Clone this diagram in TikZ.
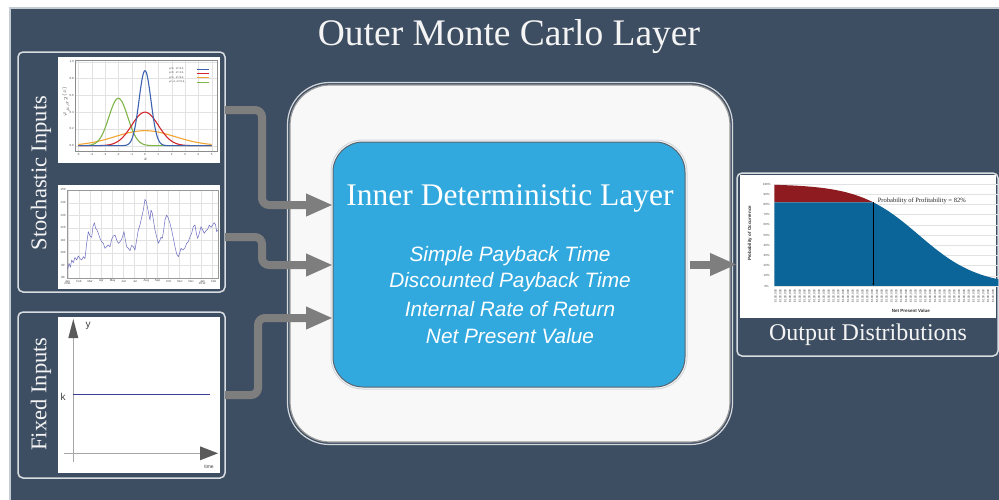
\documentclass[tikz,border=0pt]{standalone}
\usepackage{fontspec}
\setmainfont{Liberation Serif}
\newfontfamily\sansf{Liberation Sans}
\usetikzlibrary{arrows.meta}
\definecolor{panel}{HTML}{3E4E62}
\definecolor{panelline}{HTML}{C5CBD2}
\definecolor{boxline}{HTML}{D8DDE2}
\definecolor{midfill}{HTML}{F8F8F8}
\definecolor{midline}{HTML}{9A9A9A}
\definecolor{ringc}{HTML}{D4D8DC}
\definecolor{skyb}{HTML}{31A9DE}
\definecolor{skyline}{HTML}{5A646E}
\definecolor{arrowg}{HTML}{7E7E7E}
\definecolor{gridc}{HTML}{E2E2E2}
\definecolor{cblue}{HTML}{3D63AE}
\definecolor{cred}{HTML}{D1262B}
\definecolor{corange}{HTML}{F2A533}
\definecolor{cgreen}{HTML}{80B54A}
\definecolor{tsline}{HTML}{6A6AC0}
\definecolor{kline}{HTML}{3A3C96}
\definecolor{axisg}{HTML}{5A5A5A}
\definecolor{dred}{HTML}{8E1B1F}
\definecolor{dblue}{HTML}{0C6598}
\definecolor{txtw}{HTML}{F4F4F4}
\begin{document}
\begin{tikzpicture}[x=1pt,y=-1pt,
  titletxt/.style={text=txtw, font=\fontsize{37.5}{41}\selectfont, inner sep=0pt},
  sidetxt/.style={text=txtw, font=\fontsize{22.5}{24}\selectfont, inner sep=0pt},
  innertitle/.style={text=white, font=\fontsize{31.5}{35}\selectfont, inner sep=0pt},
  itemtxt/.style={text=white, font=\sansf\itshape\fontsize{20.8}{23}\selectfont, inner sep=0pt},
  outtxt/.style={text=txtw, font=\fontsize{24}{27}\selectfont, inner sep=0pt},
  inbox/.style={draw=boxline, line width=1.5pt, fill=panel, rounded corners=5pt, inner sep=0pt, outer sep=0pt},
  plotbg/.style={fill=white, inner sep=0pt, outer sep=0pt},
  flow/.style={draw=arrowg, line width=8pt, rounded corners=7pt, -{Triangle[length=27pt,width=21pt]}},
  gridln/.style={draw=gridc, line width=0.3pt},
  tinytxt/.style={font=\sansf\fontsize{3}{3.5}\selectfont, text=black!70, inner sep=0pt},
  legtxt/.style={font=\sansf\fontsize{2.6}{3}\selectfont, text=black!75, inner sep=0pt, anchor=west},
  curve/.style={line width=1.1pt, line join=round},
  axline/.style={draw=black!35, line width=0.7pt},
  declare function={pp(\x)=348-306/(1+exp((\x-551.4)/90));}
]
\useasboundingbox (0,0) rectangle (999,499);
\fill[white] (0,0) rectangle (999,499);
\draw[fill=panel, draw=panelline, line width=1.5pt] (10,8) rectangle (1012,512);
\node[titletxt] (title) at (509,37) {Outer Monte Carlo Layer};

% left boxes
\node[inbox, minimum width=207pt, minimum height=240pt] (stoch) at (121.5,172) {};
\node[plotbg, minimum width=162pt, minimum height=106pt] (p1) at (139,110) {};
\node[plotbg, minimum width=162pt, minimum height=104pt] (p2) at (139,237) {};
\node[inbox, minimum width=207pt, minimum height=166pt] (fixed) at (121.5,395) {};
\node[plotbg, minimum width=162pt, minimum height=156pt] (p3) at (139,395) {};
\node[sidetxt, rotate=90] (stochlbl) at (41,173) {Stochastic Inputs};
\node[sidetxt, rotate=90] (fixedlbl) at (41,394) {Fixed Inputs};

% plot 1: normal densities
\begin{scope}[shift={(55,55)}, x=0.3333pt, y=-0.3333pt]
  \foreach \k in {0,...,10} \draw[gridln] ({70+40*\k},15) -- ({70+40*\k},288);
  \foreach \j in {0,...,5} \draw[gridln] (62,{272-50.4*\j}) -- (487,{272-50.4*\j});
  \draw[draw=black!45, line width=0.4pt] (62,15) rectangle (487,288);
  \draw[curve, corange] plot[domain=-5:5, samples=80, smooth] ({270+40*\x},{272-252*exp(-((\x)*(\x))/10)/sqrt(2*pi*5)});
  \draw[curve, cgreen] plot[domain=-5:1.5, samples=80, smooth] ({270+40*\x},{272-252*exp(-((\x+2)*(\x+2))/1)/sqrt(2*pi*0.5)}) -- (470,272);
  \draw[curve, cred] plot[domain=-5:5, samples=100, smooth] ({270+40*\x},{272-252*exp(-((\x)*(\x))/2)/sqrt(2*pi)});
  \draw[curve, cblue] (70,272) -- plot[domain=-2:2, samples=121, smooth] ({270+40*\x},{272-252*exp(-((\x)*(\x))/0.4)/sqrt(2*pi*0.2)}) -- (470,272);
  \node[legtxt] (lg1) at (342,42) {μ=0,\ \ σ²=0.2,};
  \node[legtxt] (lg2) at (342,55) {μ=0,\ \ σ²=1.0,};
  \node[legtxt] (lg3) at (342,68) {μ=0,\ \ σ²=5.0,};
  \node[legtxt] (lg4) at (342,82) {μ=−2,\ σ²=0.5,};
  \draw[cblue, line width=1pt] (425,42) -- (462,42);
  \draw[cred, line width=1pt] (425,55) -- (462,55);
  \draw[corange, line width=1pt] (425,68) -- (462,68);
  \draw[cgreen, line width=1pt] (425,82) -- (462,82);
  \foreach \v [count=\k from 0] in {-5,-4,-3,-2,-1,0,1,2,3,4,5}
    \node[tinytxt] (p1x\k) at ({70+40*\k},298) {\v};
  \foreach \v [count=\j from 0] in {0.0,0.2,0.4,0.6,0.8,1.0}
    \node[tinytxt] (p1y\j) at (50,{272-50.4*\j}) {\v};
  \node[tinytxt, rotate=90] (p1yl) at (33,140) {$\varphi_{\mu,\sigma^2}(x)$};
  \node[tinytxt] (p1xl) at (272,314) {$x$};
\end{scope}

% plot 2: time series
\begin{scope}[shift={(55,180)}, x=0.3333pt, y=-0.3333pt]
  \foreach \k in {38,72,105,138,172,205,238,272,305,338,372,405,438,472} \draw[gridln] (\k,30) -- (\k,295);
  \foreach \j in {30,68,105,143,180,218,255} \draw[gridln] (38,\j) -- (490,\j);
  \draw[draw=black!40, line width=0.4pt] (38,30) rectangle (490,295);
  \draw[tsline, line width=0.5pt, line join=round] plot coordinates {
   (38,268) (42,250) (46,262) (50,240) (55,248) (60,232) (65,240) (70,228) (75,236) (80,240) (85,230) (90,236)
   (95,190) (100,155) (105,168) (110,172) (114,140) (118,128) (122,145) (126,150) (130,160) (135,175) (140,185)
   (145,190) (150,205) (155,200) (160,195) (165,200) (170,178) (175,168) (180,165) (185,180) (190,190) (195,185)
   (200,178) (204,165) (207,155) (211,180) (215,200) (220,205) (225,212) (230,196) (235,200) (240,210) (245,180)
   (250,150) (255,135) (260,112) (265,90) (270,58) (274,65) (278,85) (282,105) (285,120) (288,90) (292,100)
   (296,125) (300,150) (305,170) (310,190) (315,180) (318,172) (322,175) (326,150) (330,120) (335,105) (340,115)
   (345,130) (350,150) (355,175) (360,200) (365,222) (370,230) (374,220) (378,205) (384,210) (390,203) (395,190)
   (400,185) (405,170) (410,160) (415,140) (420,135) (424,160) (428,175) (433,160) (438,140) (443,150) (448,160)
   (453,152) (458,148) (463,135) (468,142) (473,135) (478,128) (482,135) (485,155) (488,150)};
  \foreach \m [count=\i from 0] in {Jan,Feb,Mar,Apr,May,Jun,Jul,Aug,Sep,Oct,Nov,Dec,Jan,Feb}
    \node[tinytxt] (p2m\i) at ({38+33.7*\i},303) {\m};
  \node[tinytxt] (p2ya) at (38,310) {2011};
  \node[tinytxt] (p2yb) at (442,310) {2012};
  \foreach \v [count=\j from 0] in {80,90,100,110,120,130,140,150}
    \node[tinytxt] (p2v\j) at (24,{293-37.6*(\j)}) {\v};
\end{scope}

% plot 3: fixed input
\draw[axline] (73.3,462) -- (73.3,336);
\draw[axline] (64,453.3) -- (202,453.3);
\fill[axisg] (218,453.3) -- (200,446.3) -- (200,460.3) -- cycle;
\draw[kline, line width=1pt] (73.3,394) -- (210,394);
\node[font=\sansf\fontsize{10}{11}\selectfont, text=black!75, inner sep=0pt] (ylab) at (88,326) {y};
\node[font=\sansf\fontsize{10}{11}\selectfont, text=black!75, inner sep=0pt] (klab) at (63,397) {k};
\node[font=\sansf\fontsize{5}{6}\selectfont, text=black!75, inner sep=0pt] (tlab) at (209,467) {time};

% middle boxes
\node[draw=ringc, line width=1.2pt, rounded corners=42pt, minimum width=445pt, minimum height=362pt, inner sep=0pt, outer sep=0pt] (midring) at (510,263.5) {};
\node[draw=midline, line width=1.2pt, fill=midfill, rounded corners=40pt, minimum width=440pt, minimum height=357pt, inner sep=0pt, outer sep=0pt] (mid) at (510,263.5) {};
\node[draw=ringc, line width=1pt, rounded corners=32pt, minimum width=356pt, minimum height=249pt, inner sep=0pt, outer sep=0pt] (innerring) at (509,264.5) {};
\node[fill=skyb, draw=skyline, line width=1pt, rounded corners=30pt, minimum width=352pt, minimum height=245pt, inner sep=0pt, outer sep=0pt] (inner) at (509,264.5) {};
\node[innertitle] (innert) at (510,198) {Inner Deterministic Layer};
\node[itemtxt] (it1) at (510,256) {Simple Payback Time};
\node[itemtxt] (it2) at (510,282) {Discounted Payback Time};
\node[itemtxt] (it3) at (510,309) {Internal Rate of Return};
\node[itemtxt] (it4) at (510,336) {Net Present Value};

% output box
\node[inbox, minimum width=261pt, minimum height=183pt] (outbox) at (867.5,264.5) {};
\node[plotbg, minimum width=256pt, minimum height=143pt] (chart) at (868,246.5) {};
\node[outtxt] (outlbl) at (868,335) {Output Distributions};
\begin{scope}[shift={(735,170)}, x=0.3333pt, y=-0.3333pt]
  \foreach \j in {0,...,10} \draw[gridln] (118,{348-30.6*\j}) -- (790,{348-30.6*\j});
  \fill[dred] (118,97) -- plot[domain=118:415, samples=60] (\x,{pp(\x)}) -- cycle;
  \fill[dblue] (118,348) -- (118,97) -- (415,97) -- plot[domain=415:790, samples=80] (\x,{pp(\x)}) -- (790,348) -- cycle;
  \draw[black, line width=0.5pt] (415,97) -- (415,342);
  \fill[black] (415,342) circle (1pt);
  \foreach \v [count=\j from 0] in {0,10,20,30,40,50,60,70,80,90,100}
    \node[tinytxt] (cy\j) at (95,{348-30.6*\j}) {\v\%};
  \node[font=\sansf\bfseries\fontsize{4.5}{5}\selectfont, text=black!80, rotate=90, inner sep=0pt] (cyt) at (45,190) {Probability of Occurrence};
  \node[anchor=west, font=\fontsize{6.5}{7}\selectfont, text=black!85, inner sep=0pt] (prob) at (428,92) {Probability of Profitability = 82\%};
  \foreach \i in {0,...,45}
    \node[tinytxt, rotate=90, anchor=east] (cx\i) at ({122+14.5*\i},358) {\$100,000};
  \node[font=\sansf\bfseries\fontsize{4.5}{5}\selectfont, text=black!80, inner sep=0pt] (npv) at (528,422) {Net Present Value};
\end{scope}

% connectors
\coordinate (k1) at (262,205);
\coordinate (k2) at (262,265);
\coordinate (k3) at (258,318);
\draw[flow] (stoch.east |- p1.center) -| (k1) -- (inner.west |- k1);
\draw[flow] (stoch.east |- p2.center) -| (k2) -- (inner.west |- k2);
\draw[flow] (fixed.east) -| (k3) -- (inner.west |- k3);
\draw[flow, shorten <=5pt] (inner.east) -- (outbox.west);

% y axis head (drawn last)
\path[fill=axisg] (68.3,338) -- (73.3,319) -- (78.3,338) -- cycle;
\end{tikzpicture}
\end{document}
